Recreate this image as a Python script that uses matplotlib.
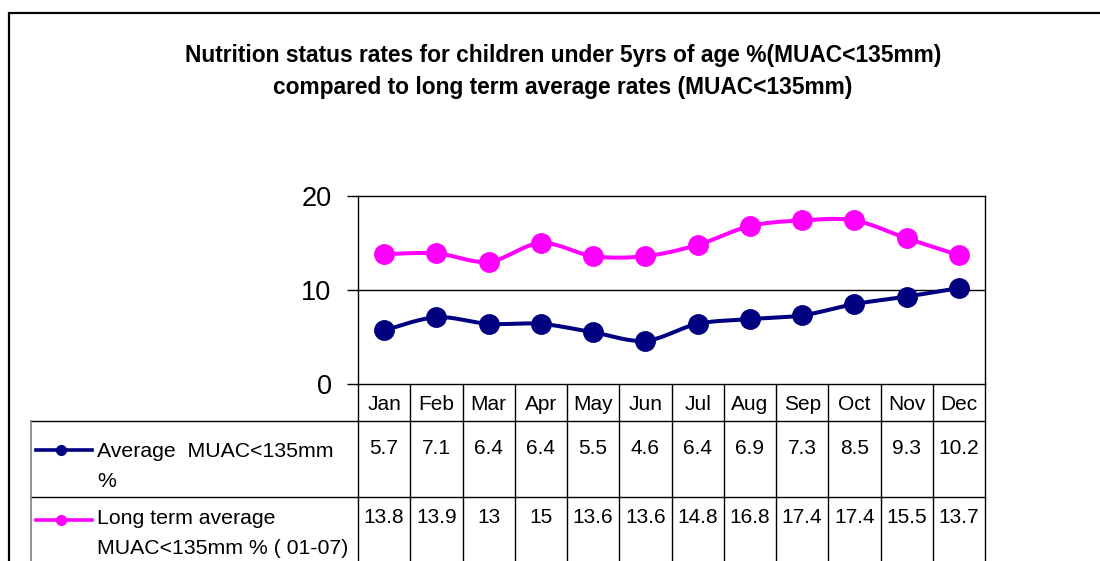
import numpy as np
import matplotlib
matplotlib.use("Agg")
import matplotlib.pyplot as plt

plt.rcParams['font.family'] = ['Liberation Sans', 'DejaVu Sans']

months = ['Jan', 'Feb', 'Mar', 'Apr', 'May', 'Jun', 'Jul', 'Aug', 'Sep', 'Oct', 'Nov', 'Dec']
avg_muac = [5.7, 7.1, 6.4, 6.4, 5.5, 4.6, 6.4, 6.9, 7.3, 8.5, 9.3, 10.2]
long_term = [13.8, 13.9, 13, 15, 13.6, 13.6, 14.8, 16.8, 17.4, 17.4, 15.5, 13.7]
long_term_txt = ['13.8', '13.9', '13', '15', '13.6', '13.6', '14.8', '16.8', '17.4', '17.4', '15.5', '13.7']
series_names = [['Average  MUAC<135mm', '%'], ['Long term average', 'MUAC<135mm % ( 01-07)']]
title_lines = ['Nutrition status rates for children under 5yrs of age %(MUAC<135mm)',
               'compared to long term average rates (MUAC<135mm)']

NAVY = '#000080'
MAGENTA = '#ff00ff'

W, H = 1100, 561
# plot area in pixels
L, R, T, B = 358, 985, 196, 384
colw = (R - L) / 12.0


def smooth(x, y, n=20):
    # catmull-rom style curve through the points (like excel "smoothed line")
    x = np.asarray(x, float)
    y = np.asarray(y, float)
    px = np.concatenate([[x[0]], x, [x[-1]]])
    py = np.concatenate([[y[0]], y, [y[-1]]])
    xs, ys = [], []
    t = np.linspace(0, 1, n)
    for i in range(1, len(px) - 2):
        for p, out in ((px, xs), (py, ys)):
            p0, p1, p2, p3 = p[i - 1], p[i], p[i + 1], p[i + 2]
            c1 = p1 + (p2 - p0) / 6.0
            c2 = p2 - (p3 - p1) / 6.0
            out.extend((1 - t) ** 3 * p1 + 3 * (1 - t) ** 2 * t * c1
                       + 3 * (1 - t) * t ** 2 * c2 + t ** 3 * p2)
    return np.array(xs), np.array(ys)


fig = plt.figure(figsize=(W / 100, H / 100), dpi=100)

# overlay in pixel coordinates for the frame, title and data table
ov = fig.add_axes([0, 0, 1, 1])
ov.set_xlim(0, W)
ov.set_ylim(H, 0)
ov.axis('off')

ax = fig.add_axes([L / W, (H - B) / H, (R - L) / W, (B - T) / H])
xi = np.arange(len(months))
for vals, col in ((avg_muac, NAVY), (long_term, MAGENTA)):
    sx, sy = smooth(xi, vals)
    ax.plot(sx, sy, color=col, lw=2.9, solid_capstyle='round', zorder=3)
    ax.plot(xi, vals, 'o', color=col, ms=14, zorder=4)
ax.set_xlim(-0.5, 11.5)
ax.set_ylim(0, 20)
ax.set_yticks([0, 10, 20])
ax.set_xticks([])
ax.axhline(10, color='black', lw=1)
for s in ax.spines.values():
    s.set_linewidth(1)
ax.tick_params(axis='y', length=8, width=1, labelsize=19.5, pad=11)

# outer frame
ov.plot([9, 9, W], [H, 13, 13], color='black', lw=1.6, solid_joinstyle='miter')

ov.text(563, 55, title_lines[0], ha='center', va='center', fontsize=16.4, fontweight='bold')
ov.text(563, 87, title_lines[1], ha='center', va='center', fontsize=16.4, fontweight='bold')

# data table
r1, r2 = 421, 497
ov.plot([31, R], [r1, r1], color='black', lw=1)
ov.plot([31, R], [r2, r2], color='black', lw=1)
ov.plot([31, 31], [r1, H], color='#808080', lw=1.2)
for k in range(13):
    ov.plot([L + k * colw] * 2, [B, H], color='black', lw=1)

for k, m in enumerate(months):
    cx = L + (k + 0.5) * colw
    ov.text(cx, 410, m, ha='center', va='baseline', fontsize=15)
    ov.text(cx, 454, f'{avg_muac[k]:g}', ha='center', va='baseline', fontsize=15)
    ov.text(cx, 523, long_term_txt[k], ha='center', va='baseline', fontsize=15)

for ry, base, lines, col in ((450, 457, series_names[0], NAVY),
                             (520, 524, series_names[1], MAGENTA)):
    ov.plot([36, 92], [ry, ry], color=col, lw=2.6)
    ov.plot([61], [ry], 'o', color=col, ms=7)
    ov.text(97, base, lines[0], ha='left', va='baseline', fontsize=15.3)
    ov.text(97, base + 30, lines[1], ha='left', va='baseline', fontsize=15.3)

fig.savefig('out.png', dpi=100)
